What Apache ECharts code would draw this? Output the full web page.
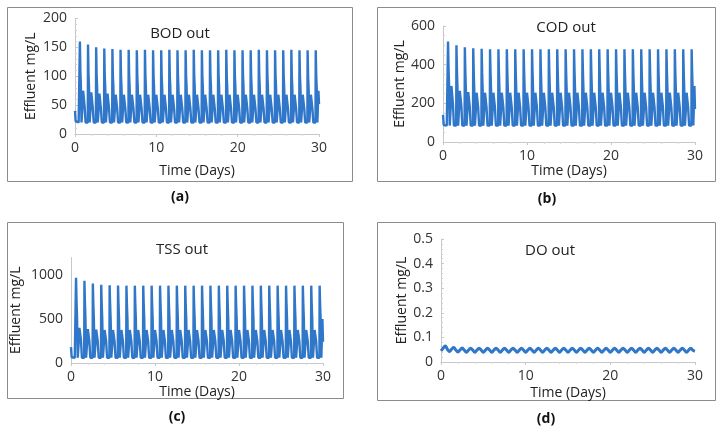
<!DOCTYPE html>
<html><head><meta charset="utf-8">
<script src="https://cdn.jsdelivr.net/npm/echarts@6/dist/echarts.min.js"></script>
<style>html,body{margin:0;padding:0;background:#fff}#c{width:724px;height:433px}</style>
</head><body><div id="c"></div>
<script>
// sampling offsets inside each day (days)
const cycleOffsets = [0.00, 0.08, 0.18, 0.30, 0.45, 0.57, 0.60, 0.66, 0.72, 0.80, 0.86, 0.93];
const doOffsets = [0.00, 0.25, 0.50, 0.75];
const xTicks = [0, 10, 20, 30];

const bodValues = [
 40,22,20,20,20,20,160,110,85,20,20,52,
 75,78,48,20,20,20,155,105,82,20,20,50,
 72,72,46,20,20,20,150,102,80,20,20,48,
 70,71,45,20,20,20,148,100,80,20,20,48,
 70,70,45,20,20,20,147,100,80,20,20,48,
 68,70,45,20,20,20,146,100,80,20,20,48,
 68,70,45,20,20,20,146,100,80,20,20,48,
 68,70,45,20,20,20,145,100,80,20,20,48,
 68,70,45,20,20,20,146,100,80,20,20,48,
 68,70,45,20,20,20,145,100,80,20,20,48,
 68,70,45,20,20,20,145,100,80,20,20,48,
 68,70,45,20,20,20,146,100,80,20,20,48,
 68,70,45,20,20,20,145,100,80,20,20,48,
 68,70,45,20,20,20,145,100,80,20,20,48,
 68,70,45,20,20,20,146,100,80,20,20,48,
 68,70,45,20,20,20,145,100,80,20,20,48,
 68,70,45,20,20,20,145,100,80,20,20,48,
 68,70,45,20,20,20,145,100,80,20,20,48,
 68,70,45,20,20,20,146,100,80,20,20,48,
 68,70,45,20,20,20,145,100,80,20,20,48,
 68,70,45,20,20,20,145,100,80,20,20,48,
 68,70,45,20,20,20,145,100,80,20,20,48,
 68,70,45,20,20,20,146,100,80,20,20,48,
 68,70,45,20,20,20,145,100,80,20,20,48,
 68,70,45,20,20,20,145,100,80,20,20,48,
 68,70,45,20,20,20,145,100,80,20,20,48,
 68,70,45,20,20,20,146,100,80,20,20,48,
 68,70,45,20,20,20,145,100,80,20,20,48,
 68,70,45,20,20,20,145,100,80,20,20,48,
 68,70,45,20,20,20,145,100,80,20,20,75,
 52];

const codValues = [
 140,88,85,85,85,85,520,380,300,85,85,190,
 290,300,200,85,85,85,500,370,285,85,85,185,
 265,270,190,85,85,85,490,365,278,85,85,180,
 258,262,185,85,85,85,485,360,272,85,85,180,
 255,260,182,85,85,85,482,360,270,85,85,180,
 255,258,180,85,85,85,480,360,270,85,85,180,
 255,258,180,85,85,85,480,360,270,85,85,180,
 255,258,180,85,85,85,480,360,270,85,85,180,
 255,258,180,85,85,85,480,360,270,85,85,180,
 255,258,180,85,85,85,480,360,270,85,85,180,
 255,258,180,85,85,85,480,360,270,85,85,180,
 255,258,180,85,85,85,480,360,270,85,85,180,
 255,258,180,85,85,85,480,360,270,85,85,180,
 255,258,180,85,85,85,480,360,270,85,85,180,
 255,258,180,85,85,85,480,360,270,85,85,180,
 255,258,180,85,85,85,480,360,270,85,85,180,
 255,258,180,85,85,85,480,360,270,85,85,180,
 255,258,180,85,85,85,480,360,270,85,85,180,
 255,258,180,85,85,85,480,360,270,85,85,180,
 255,258,180,85,85,85,480,360,270,85,85,180,
 255,258,180,85,85,85,480,360,270,85,85,180,
 255,258,180,85,85,85,480,360,270,85,85,180,
 255,258,180,85,85,85,480,360,270,85,85,180,
 255,258,180,85,85,85,480,360,270,85,85,180,
 255,258,180,85,85,85,480,360,270,85,85,180,
 255,258,180,85,85,85,480,360,270,85,85,180,
 255,258,180,85,85,85,480,360,270,85,85,180,
 255,258,180,85,85,85,480,360,270,85,85,180,
 255,258,180,85,85,85,480,360,270,85,85,180,
 255,258,180,85,85,85,480,360,270,85,85,290,
 170];

const tssValues = [
 180,65,60,60,60,60,970,700,520,60,60,250,
 400,420,270,60,60,60,935,680,510,60,60,245,
 385,395,255,60,60,60,905,665,500,60,60,240,
 380,385,250,60,60,60,890,660,500,60,60,240,
 375,382,250,60,60,60,885,655,500,60,60,240,
 375,382,250,60,60,60,882,655,500,60,60,240,
 375,382,250,60,60,60,880,655,500,60,60,240,
 375,382,250,60,60,60,880,655,500,60,60,240,
 375,382,250,60,60,60,880,655,500,60,60,240,
 375,382,250,60,60,60,880,655,500,60,60,240,
 375,382,250,60,60,60,880,655,500,60,60,240,
 375,382,250,60,60,60,880,655,500,60,60,240,
 375,382,250,60,60,60,880,655,500,60,60,240,
 375,382,250,60,60,60,880,655,500,60,60,240,
 375,382,250,60,60,60,880,655,500,60,60,240,
 375,382,250,60,60,60,880,655,500,60,60,240,
 375,382,250,60,60,60,880,655,500,60,60,240,
 375,382,250,60,60,60,880,655,500,60,60,240,
 375,382,250,60,60,60,880,655,500,60,60,240,
 375,382,250,60,60,60,880,655,500,60,60,240,
 375,382,250,60,60,60,880,655,500,60,60,240,
 375,382,250,60,60,60,880,655,500,60,60,240,
 375,382,250,60,60,60,880,655,500,60,60,240,
 375,382,250,60,60,60,880,655,500,60,60,240,
 375,382,250,60,60,60,880,655,500,60,60,240,
 375,382,250,60,60,60,880,655,500,60,60,240,
 375,382,250,60,60,60,880,655,500,60,60,240,
 375,382,250,60,60,60,880,655,500,60,60,240,
 375,382,250,60,60,60,880,655,500,60,60,240,
 375,382,250,60,60,60,880,655,500,60,60,500,
 240];

const doValues = [
 0.045,0.056,0.065,0.052,
 0.043,0.052,0.059,0.049,
 0.041,0.049,0.057,0.048,
 0.040,0.048,0.056,0.048,
 0.040,0.048,0.056,0.048,
 0.040,0.048,0.056,0.048,
 0.040,0.048,0.056,0.048,
 0.040,0.048,0.056,0.048,
 0.040,0.048,0.056,0.048,
 0.040,0.048,0.056,0.048,
 0.040,0.048,0.056,0.048,
 0.040,0.048,0.056,0.048,
 0.040,0.048,0.056,0.048,
 0.040,0.048,0.056,0.048,
 0.040,0.048,0.056,0.048,
 0.040,0.048,0.056,0.048,
 0.040,0.048,0.056,0.048,
 0.040,0.048,0.056,0.048,
 0.040,0.048,0.056,0.048,
 0.040,0.048,0.056,0.048,
 0.040,0.048,0.056,0.048,
 0.040,0.048,0.056,0.048,
 0.040,0.048,0.056,0.048,
 0.040,0.048,0.056,0.048,
 0.040,0.048,0.056,0.048,
 0.040,0.048,0.056,0.048,
 0.040,0.048,0.056,0.048,
 0.040,0.048,0.056,0.048,
 0.040,0.048,0.056,0.048,
 0.040,0.048,0.056,0.048,
 0.044];

function pairs(values, offsets) {
  const out = [];
  const n = offsets.length;
  for (let i = 0; i < values.length; i++) {
    const d = Math.floor(i / n);
    const t = i === values.length - 1 && i % n === 0 ? 30 : d + offsets[i % n];
    out.push([t, values[i]]);
  }
  return out;
}

const FONT = 'Open Sans';
const LINE = '#3077c9';
const txt = {color: '#333', fontFamily: FONT, fontSize: 14};

const panels = [
  {title:'BOD out', tx:175, ty:29, grid:{left:75, top:18.5, width:244, height:115.5},
   ymax:200, yint:50, minor:5, data:pairs(bodValues, cycleOffsets), nameGapX:30, nameGapY:37, smooth:false, w:2.4},
  {title:'COD out', tx:561, ty:23, grid:{left:443, top:26, width:252, height:116},
   ymax:600, yint:200, minor:4, data:pairs(codValues, cycleOffsets), nameGapX:22, nameGapY:31, smooth:false, w:2.4},
  {title:'TSS out', tx:177, ty:245, grid:{left:71, top:257.5, width:252, height:105.5},
   ymax:1200, yint:500, minor:0, data:pairs(tssValues, cycleOffsets), nameGapX:22, nameGapY:48, smooth:false, w:2.4},
  {title:'DO out', tx:545, ty:246, grid:{left:441, top:239, width:254, height:123},
   ymax:0.5, yint:0.1, minor:5, data:pairs(doValues, doOffsets), nameGapX:24, nameGapY:31, smooth:true, w:3}
];

const option = {
  animation:false,
  backgroundColor:'#fff',
  title: panels.map(p => ({text:p.title, left:p.tx, top:p.ty, textAlign:'center', textVerticalAlign:'middle',
    textStyle:{fontFamily:FONT, fontSize:15, fontWeight:'normal', color:'#222'}})),
  grid: panels.map(p => p.grid),
  xAxis: panels.map((p,i) => ({type:'value', gridIndex:i, min:0, max:30, interval:10,
    name:'Time (Days)', nameLocation:'middle', nameGap:p.nameGapX,
    nameTextStyle:{color:'#222', fontFamily:FONT, fontSize:14},
    axisLine:{lineStyle:{color:'#c8c8c8', width:1}},
    axisTick:{show:true, length:3, lineStyle:{color:'#c8c8c8'}},
    minorTick:{show:true, splitNumber:5, length:2, lineStyle:{color:'#d8d8d8'}},
    axisLabel:Object.assign({margin:7}, txt), splitLine:{show:false}})),
  yAxis: panels.map((p,i) => ({type:'value', gridIndex:i, min:0, max:p.ymax, interval:p.yint,
    name:'Effluent mg/L', nameLocation:'middle', nameGap:p.nameGapY, nameRotate:90,
    nameTextStyle:{color:'#222', fontFamily:FONT, fontSize:14},
    axisLine:{show:true, lineStyle:{color:'#c8c8c8', width:1}},
    axisTick:{show:p.minor>0, inside:true, length:3, lineStyle:{color:'#c8c8c8'}},
    minorTick:{show:p.minor>0, splitNumber:p.minor||5, length:2, lineStyle:{color:'#d0d0d0'}},
    axisLabel:Object.assign({margin:8, showMaxLabel: p.ymax !== 1200, formatter: v => String(v)}, txt),
    splitLine:{show:false}})),
  series: panels.map((p,i) => ({type:'line', xAxisIndex:i, yAxisIndex:i, data:p.data, showSymbol:false,
    smooth:p.smooth, lineStyle:{color:LINE, width:p.w}, itemStyle:{color:LINE}})),
  graphic: [
    {type:'rect', shape:{x:7.5, y:7.5, width:345, height:174}, style:{fill:'none', stroke:'#8c8c8c', lineWidth:1}},
    {type:'rect', shape:{x:377.5, y:7.5, width:338, height:174}, style:{fill:'none', stroke:'#8c8c8c', lineWidth:1}},
    {type:'rect', shape:{x:7.5, y:222.5, width:336, height:176}, style:{fill:'none', stroke:'#8c8c8c', lineWidth:1}},
    {type:'rect', shape:{x:377.5, y:222.5, width:338, height:178}, style:{fill:'none', stroke:'#8c8c8c', lineWidth:1}},
    {type:'text', x:180, y:197, style:{text:'(a)', font:'bold 14px "Open Sans"', fill:'#111', textAlign:'center', textVerticalAlign:'middle'}},
    {type:'text', x:547, y:199, style:{text:'(b)', font:'bold 14px "Open Sans"', fill:'#111', textAlign:'center', textVerticalAlign:'middle'}},
    {type:'text', x:177, y:417, style:{text:'(c)', font:'bold 14px "Open Sans"', fill:'#111', textAlign:'center', textVerticalAlign:'middle'}},
    {type:'text', x:546, y:419, style:{text:'(d)', font:'bold 14px "Open Sans"', fill:'#111', textAlign:'center', textVerticalAlign:'middle'}}
  ]
};
const chart = echarts.init(document.getElementById('c'), null, {renderer:'canvas'});
chart.setOption(option);
</script></body></html>
